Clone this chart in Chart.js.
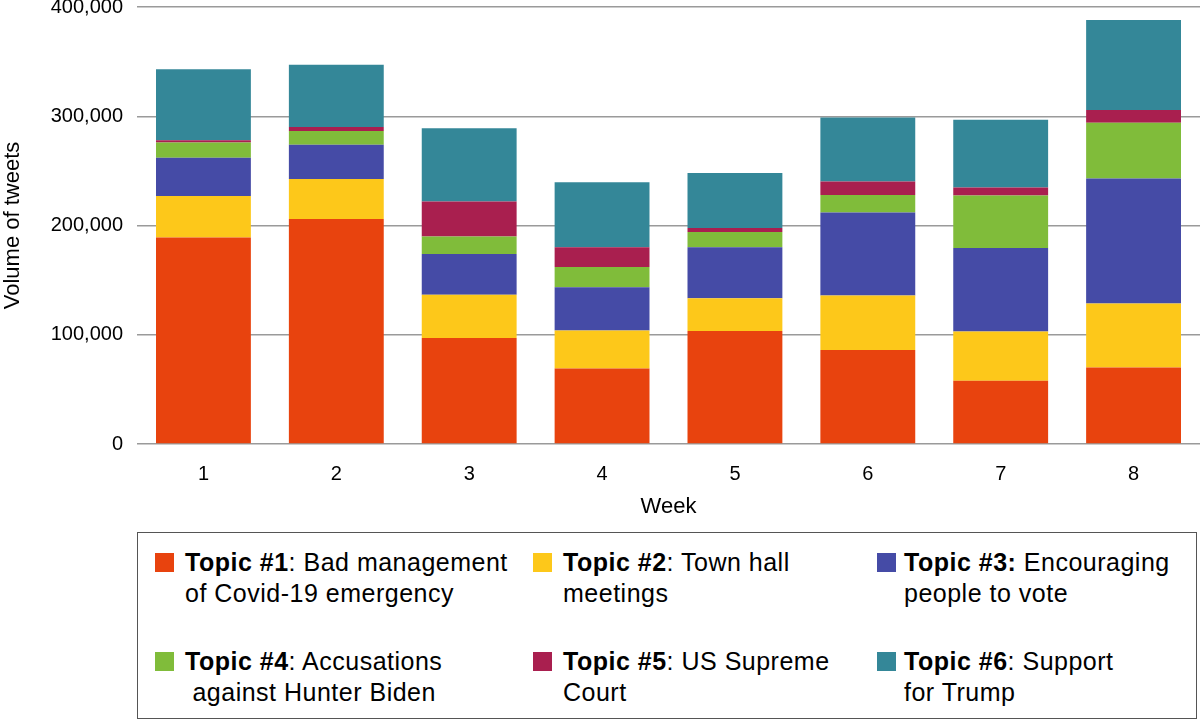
<!DOCTYPE html>
<html>
<head>
<meta charset="utf-8">
<script src="https://cdn.jsdelivr.net/npm/chart.js@4"></script>
<style>
  html, body { margin: 0; padding: 0; background: #fff; }
  body { width: 1200px; height: 721px; position: relative; overflow: hidden; font-family: "Liberation Sans", Arial, Helvetica, sans-serif; }
  #wrap { position: absolute; left: 0; top: 0; width: 1200px; height: 530px; }
  #legend { position: absolute; left: 137px; top: 532px; width: 1060px; height: 187px; border: 1.5px solid #555; box-sizing: border-box; }
  .sw { position: absolute; width: 19px; height: 19px; }
  .txt { position: absolute; font-size: 25px; letter-spacing: 0.5px; line-height: 31px; color: #000; white-space: pre; }
  .txt b { font-weight: bold; }
</style>
</head>
<body>
<div id="wrap"><canvas id="c" width="1200" height="530"></canvas></div>
<div id="legend"></div>
<script>
const weeks = ["1", "2", "3", "4", "5", "6", "7", "8"];
const topic1 = [189000, 206000, 97000, 69000, 103500, 86000, 58000, 70000];
const topic2 = [38000, 36500, 39500, 35000, 30000, 50000, 45000, 58500];
const topic3 = [35000, 31500, 37500, 39500, 46500, 76000, 76500, 114500];
const topic4 = [14000, 12500, 16000, 18500, 14000, 16000, 48000, 51000];
const topic5 = [2000, 3700, 32000, 18000, 3600, 12300, 7300, 11700];
const topic6 = [65000, 57000, 67000, 59500, 50500, 58500, 62000, 82500];
const topicTitles = ["Topic #1", "Topic #2", "Topic #3:", "Topic #4", "Topic #5", "Topic #6"];
const topicLine1 = [": Bad management", ": Town hall", " Encouraging", ": Accusations", ": US Supreme", ": Support"];
const topicLine2 = ["of Covid-19 emergency", "meetings", "people to vote", " against Hunter Biden", "Court", "for Trump"];
const colors = ["#E8430E", "#FDC81A", "#454BA6", "#80BC3A", "#A91F4F", "#348798"];
const yTicks = [0, 100000, 200000, 300000, 400000];

const series = [topic1, topic2, topic3, topic4, topic5, topic6];
const FONT = '"Liberation Sans", Arial, Helvetica, sans-serif';

const datasets = series.map((d, i) => ({
  label: (topicTitles[i] + topicLine1[i]).replace('::', ':') + " " + topicLine2[i].trim(),
  data: d,
  backgroundColor: colors[i],
  borderWidth: 0,
  barPercentage: 0.714,
  categoryPercentage: 1.0
}));

new Chart(document.getElementById('c'), {
  type: 'bar',
  data: { labels: weeks, datasets },
  options: {
    responsive: false,
    animation: false,
    events: [],
    layout: { padding: { left: 0, right: 0, top: 7, bottom: 10 } },
    plugins: { legend: { display: false }, tooltip: { enabled: false } },
    scales: {
      x: {
        stacked: true,
        grid: { display: false },
        border: { display: false },
        ticks: { color: '#000', font: { family: FONT, size: 20 }, padding: 10 },
        title: { display: true, text: 'Week', color: '#000', font: { family: FONT, size: 22 }, padding: { top: 6, bottom: 0 } },
        afterFit: (s) => { s.height = 76; s.paddingLeft = 0; s.paddingRight = 0; }
      },
      y: {
        stacked: true,
        min: 0, max: 400000,
        afterBuildTicks: (s) => { s.ticks = yTicks.map(v => ({ value: v })); },
        grid: { color: '#9a9a9a', lineWidth: 1.5, drawTicks: false },
        border: { display: false },
        ticks: {
          color: '#000', font: { family: FONT, size: 20 }, padding: 14,
          callback: (v) => v.toLocaleString('en-US')
        },
        title: { display: true, text: 'Volume of tweets', color: '#000', font: { family: FONT, size: 22 }, padding: 0 },
        afterFit: (s) => { s.width = 137; s.paddingTop = 0; s.paddingBottom = 0; }
      }
    }
  }
});

// HTML legend built from the same arrays
const legend = document.getElementById('legend');
const colX = [17, 395, 739];
const rowY = [20, 119];
topicTitles.forEach((t, i) => {
  const col = i % 3, row = Math.floor(i / 3);
  const sw = document.createElement('div');
  sw.className = 'sw';
  sw.style.left = colX[col] + 'px';
  sw.style.top = rowY[row] + 'px';
  sw.style.background = colors[i];
  legend.appendChild(sw);
  const tx = document.createElement('div');
  tx.className = 'txt';
  tx.style.left = (colX[col] + (col === 2 ? 27 : 30)) + 'px';
  tx.style.top = (rowY[row] - 6) + 'px';
  const b = document.createElement('b');
  b.textContent = t;
  tx.appendChild(b);
  tx.appendChild(document.createTextNode(topicLine1[i] + "\n" + topicLine2[i]));
  legend.appendChild(tx);
});
</script>
</body>
</html>
